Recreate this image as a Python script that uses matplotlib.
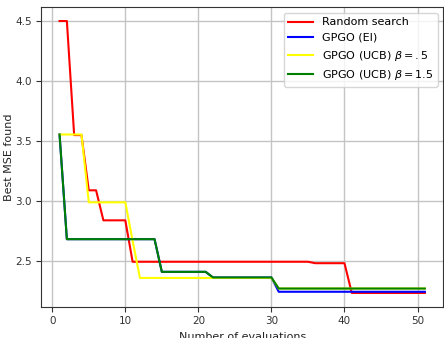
import numpy as np
import matplotlib
matplotlib.use("Agg")
import matplotlib.pyplot as plt

# valori (miglior MSE dopo n valutazioni)
n_eval = np.arange(1, 52)

random_search = [4.5, 4.5, 3.55, 3.55, 3.09, 3.09, 2.84, 2.84, 2.84, 2.84] \
    + [2.495] * 25 + [2.483] * 5 + [2.235] * 11
gpgo_ei = [3.555] + [2.683] * 13 + [2.411] * 7 + [2.364] * 9 + [2.245] * 21
gpgo_ucb_05 = [3.555] * 4 + [2.99] * 6 + [2.67] + [2.36] * 19 + [2.272] * 21
gpgo_ucb_15 = [3.555] + [2.683] * 13 + [2.411] * 7 + [2.364] * 9 + [2.272] * 21

plt.rcParams['font.family'] = 'DejaVu Sans'
fig = plt.figure(figsize=(4.44, 3.38), dpi=100)
ax = fig.add_axes([0.093, 0.093, 0.905, 0.885])

ax.plot(n_eval, random_search, color='red', linewidth=1.5, label='Random search')
ax.plot(n_eval, gpgo_ei, color='blue', linewidth=1.5, label='GPGO (EI)')
ax.plot(n_eval, gpgo_ucb_05, color='yellow', linewidth=1.5, label=r'GPGO (UCB) $\beta=.5$')
ax.plot(n_eval, gpgo_ucb_15, color='green', linewidth=1.5, label=r'GPGO (UCB) $\beta=1.5$')

ax.set_xticks([0, 10, 20, 30, 40, 50])
ax.set_yticks([2.5, 3.0, 3.5, 4.0, 4.5])
ax.tick_params(labelsize=7.5, colors='#333333')
ax.set_xlabel("Number of evaluations", fontsize=8, color='#222222')
ax.set_ylabel("Best MSE found", fontsize=8, color='#222222', labelpad=1)
ax.grid(True, color='#c4c4c4', linewidth=1)
for s in ax.spines.values():
    s.set_color('#333333')
ax.legend(loc='upper right', fontsize=8, handlelength=2.2)

fig.savefig('out.png', dpi=100)
